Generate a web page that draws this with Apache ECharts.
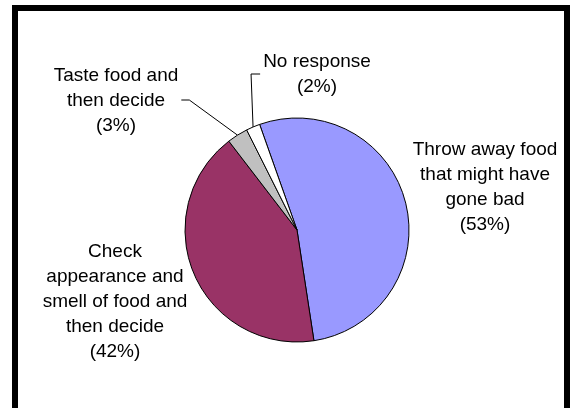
<!DOCTYPE html>
<html>
<head>
<meta charset="utf-8">
<script src="https://cdn.jsdelivr.net/npm/echarts@6/dist/echarts.min.js"></script>
<style>
  html, body { margin: 0; padding: 0; background: #fff; }
  #main { width: 576px; height: 408px; }
</style>
</head>
<body>
<div id="main"></div>
<script>
// slices, clockwise from the top-left
const categories = [
  'Throw away food\nthat might have\ngone bad',
  'Check\nappearance and\nsmell of food and\nthen decide',
  'Taste food and\nthen decide',
  'No response'
];
const shares = [53, 42, 3, 2];
const sliceColors = ['#9999ff', '#993366', '#c0c0c0', '#ffffff'];

// centre of each label block, and which side the leader comes in from
const labelSpots = [
  { x: 485, y: 187, leader: null },
  { x: 115, y: 302, leader: null },
  { x: 116, y: 101, leader: 'right' },
  { x: 317, y: 74, leader: 'left' }
];

let option = {
  backgroundColor: '#fff',
  animation: false,
  graphic: [
    {
      type: 'rect',
      shape: { x: 15, y: 8, width: 552, height: 420 },
      style: { fill: 'none', stroke: '#000', lineWidth: 6 },
      silent: true
    }
  ],
  series: [
    {
      type: 'pie',
      center: [297, 230],
      radius: 112,
      startAngle: 109.5,
      clockwise: true,
      avoidLabelOverlap: false,
      emphasis: { disabled: true },
      itemStyle: { borderColor: '#000', borderWidth: 1 },
      label: {
        show: true,
        position: 'outside',
        color: '#000',
        fontFamily: 'Liberation Sans',
        fontSize: 19,
        lineHeight: 25,
        align: 'center',
        formatter: function (p) {
          return p.name + '\n(' + Math.round(p.percent) + '%)';
        }
      },
      labelLine: {
        show: true,
        smooth: false,
        lineStyle: { color: '#000', width: 1 }
      },
      labelLayout: function (params) {
        const spot = labelSpots[params.dataIndex];
        const w = params.labelRect.width;
        const out = { x: spot.x, y: spot.y, align: 'center', verticalAlign: 'middle' };
        const p0 = params.labelLinePoints && params.labelLinePoints[0];
        if (p0 && spot.leader === 'right') {
          const ex = spot.x + w / 2 + 3;
          out.labelLinePoints = [p0, [ex + 8, spot.y - 1], [ex, spot.y - 1]];
        } else if (p0 && spot.leader === 'left') {
          const ex = spot.x - w / 2 - 3;
          out.labelLinePoints = [p0, [p0[0] - 2, spot.y], [ex, spot.y]];
        }
        return out;
      },
      data: categories.map(function (name, i) {
        return {
          name: name,
          value: shares[i],
          itemStyle: { color: sliceColors[i] },
          labelLine: { show: labelSpots[i].leader !== null }
        };
      })
    }
  ]
};

let myChart = echarts.init(document.getElementById('main'));
myChart.setOption(option);
</script>
</body>
</html>
